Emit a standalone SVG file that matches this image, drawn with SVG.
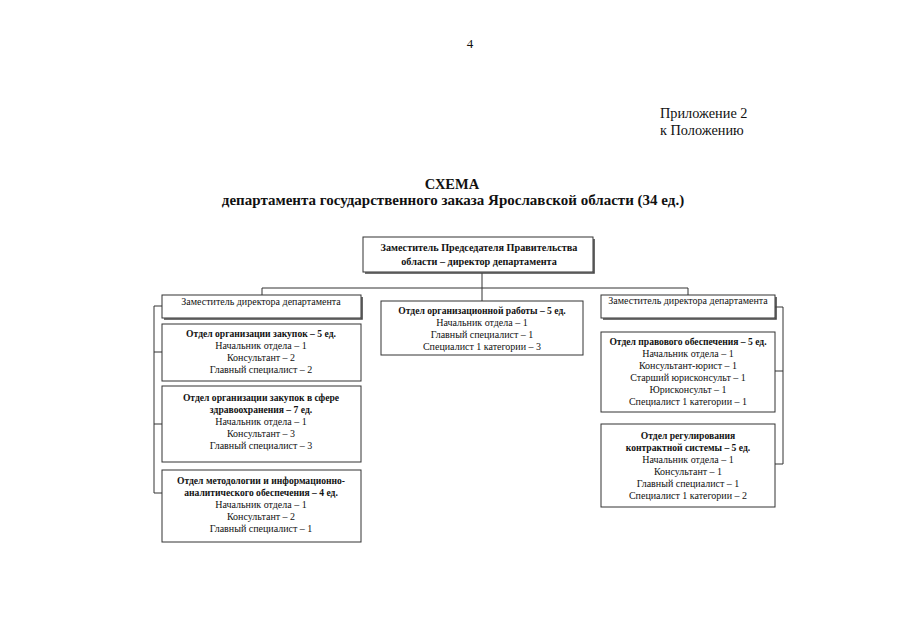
<svg xmlns="http://www.w3.org/2000/svg" width="905" height="640" viewBox="0 0 905 640">
<style>
text{font-family:"Liberation Serif","Times New Roman",serif;fill:#111}
.t{font-size:10px;text-anchor:middle}
.b{font-weight:bold;font-size:9.6px}
.h{font-weight:bold;font-size:10.2px}
.box{fill:#fff;stroke:#333;stroke-width:1}
.sh{fill:none;stroke:#444;stroke-width:1.6}
.conn{fill:none;stroke:#333;stroke-width:1}
</style>
<rect width="905" height="640" fill="#fff"/>
<text x="470" y="48" font-size="13" text-anchor="middle">4</text>
<text x="660" y="118" font-size="14.3">Приложение 2</text>
<text x="660" y="135" font-size="14.3">к Положению</text>
<text x="452" y="189" font-size="14.5" font-weight="bold" text-anchor="middle">СХЕМА</text>
<text x="453" y="205" font-size="15" font-weight="bold" text-anchor="middle">департамента государственного заказа Ярославской области (34 ед.)</text>

<g id="connectors">
<path class="conn" d="M482 273V288M262 288H688M262 288V295M482 288V301M688 288V295"/>
<path class="conn" d="M154 306V493M154 306H162M154 352H162M154 424H162M154 493H162"/>
<path class="conn" d="M783 307V464M775 307H783M775 371H783M775 464H783"/>
</g>

<g id="director">
<rect class="box" x="363" y="237" width="230" height="35" stroke-width="1.2"/>
<path class="sh" d="M365 273H594V239"/>
<text class="t h" x="479" y="251">Заместитель Председателя Правительства</text>
<text class="t h" x="479" y="265">области  – директор департамента</text>
</g>

<g id="deputy-left">
<rect class="box" x="162" y="295" width="199" height="23"/>
<path class="sh" d="M164 319H362V297"/>
<text class="t" x="261" y="305">Заместитель директора департамента</text>
</g>

<g id="dept-procurement">
<rect class="box" x="162" y="324" width="199" height="57"/>
<text class="t b" x="261" y="337">Отдел организации закупок  – 5 ед.</text>
<text class="t" x="261" y="349">Начальник отдела – 1</text>
<text class="t" x="261" y="361">Консультант – 2</text>
<text class="t" x="261" y="373">Главный специалист – 2</text>
</g>

<g id="dept-health">
<rect class="box" x="162" y="386" width="199" height="76"/>
<text class="t b" x="261" y="401">Отдел организации закупок в сфере</text>
<text class="t b" x="261" y="413">здравоохранения  – 7 ед.</text>
<text class="t" x="261" y="425">Начальник отдела – 1</text>
<text class="t" x="261" y="437">Консультант – 3</text>
<text class="t" x="261" y="449">Главный специалист – 3</text>
</g>

<g id="dept-methodology">
<rect class="box" x="162" y="470" width="199" height="72"/>
<text class="t b" x="261" y="484">Отдел методологии и информационно-</text>
<text class="t b" x="261" y="496">аналитического обеспечения – 4 ед.</text>
<text class="t" x="261" y="508">Начальник отдела – 1</text>
<text class="t" x="261" y="520">Консультант – 2</text>
<text class="t" x="261" y="532">Главный специалист – 1</text>
</g>

<g id="dept-org">
<rect class="box" x="381" y="301" width="202" height="54"/>
<text class="t b" x="482" y="314">Отдел организационной работы – 5 ед.</text>
<text class="t" x="482" y="326">Начальник отдела – 1</text>
<text class="t" x="482" y="338">Главный специалист – 1</text>
<text class="t" x="482" y="350">Специалист 1 категории – 3</text>
</g>

<g id="deputy-right">
<rect class="box" x="601" y="295" width="174" height="23"/>
<path class="sh" d="M603 319H776V297"/>
<text class="t" x="688" y="304">Заместитель директора департамента</text>
</g>

<g id="dept-legal">
<rect class="box" x="601" y="332" width="174" height="80"/>
<text class="t b" x="688" y="345">Отдел правового обеспечения  – 5 ед.</text>
<text class="t" x="688" y="357">Начальник отдела – 1</text>
<text class="t" x="688" y="369">Консультант-юрист – 1</text>
<text class="t" x="688" y="381">Старший юрисконсульт – 1</text>
<text class="t" x="688" y="393">Юрисконсульт  – 1</text>
<text class="t" x="688" y="405">Специалист 1 категории  – 1</text>
</g>

<g id="dept-contract">
<rect class="box" x="601" y="424" width="174" height="83"/>
<text class="t b" x="688" y="439">Отдел регулирования</text>
<text class="t b" x="688" y="451">контрактной системы  – 5 ед.</text>
<text class="t" x="688" y="463">Начальник отдела – 1</text>
<text class="t" x="688" y="475">Консультант – 1</text>
<text class="t" x="688" y="487">Главный специалист – 1</text>
<text class="t" x="688" y="499">Специалист 1 категории  – 2</text>
</g>
</svg>
